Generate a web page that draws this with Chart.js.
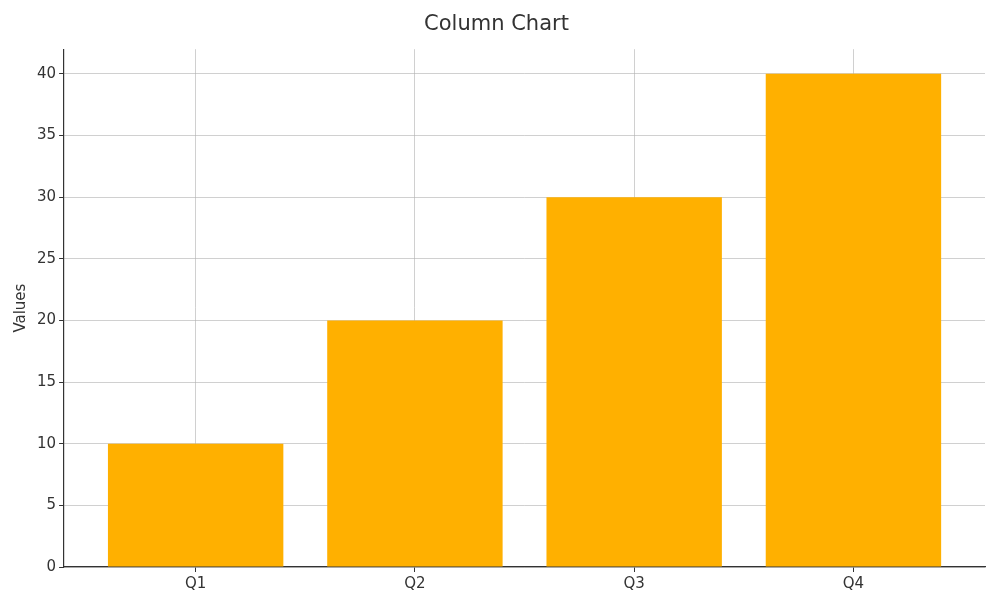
<!DOCTYPE html>
<html>
<head>
<meta charset="utf-8">
<script src="https://cdn.jsdelivr.net/npm/chart.js@4"></script>
<style>
  body { margin: 0; background: #fff; }
  #wrap { width: 1000px; height: 600px; }
</style>
</head>
<body>
<div id="wrap"><canvas id="chart"></canvas></div>
<script>
const categories = ['Q1', 'Q2', 'Q3', 'Q4'];
const values = [10, 20, 30, 40];
const yTicks = [0, 5, 10, 15, 20, 25, 30, 35, 40];

const barColor = '#ffb000';
const textColor = '#333333';
const gridColor = 'rgba(176, 176, 176, 0.6)';
const font = { family: 'DejaVu Sans', size: 15 };

new Chart(document.getElementById('chart').getContext('2d'), {
    type: 'bar',
    data: {
        datasets: [{
            label: 'Values',
            data: values.map((v, i) => ({ x: i, y: v })),
            backgroundColor: barColor,
            barPercentage: 0.8,
            categoryPercentage: 1.0
        }]
    },
    options: {
        responsive: true,
        maintainAspectRatio: false,
        animation: false,
        layout: { padding: { top: 0, right: 15, bottom: 4, left: 8 } },
        scales: {
            x: {
                type: 'linear',
                min: -0.6,
                max: 3.6,
                offset: false,
                afterBuildTicks: axis => { axis.ticks = categories.map((c, i) => ({ value: i })); },
                ticks: { color: textColor, font: font, callback: v => categories[v] },
                grid: { offset: false, color: gridColor, tickColor: '#333', tickLength: 5 },
                border: { color: '#333', width: 1.2 }
            },
            y: {
                min: 0,
                max: 42,
                afterBuildTicks: axis => { axis.ticks = yTicks.map(v => ({ value: v })); },
                ticks: { color: textColor, font: font },
                title: { display: true, text: 'Values', color: textColor, font: font },
                grid: { color: gridColor, tickColor: '#333', tickLength: 5 },
                border: { color: '#333', width: 1.2 }
            }
        },
        plugins: {
            legend: { display: false },
            tooltip: { enabled: false },
            title: {
                display: true,
                text: 'Column Chart',
                color: textColor,
                font: { family: 'DejaVu Sans', size: 21, weight: 'normal' },
                padding: { top: 12, bottom: 12 }
            }
        }
    }
});
</script>
</body>
</html>
